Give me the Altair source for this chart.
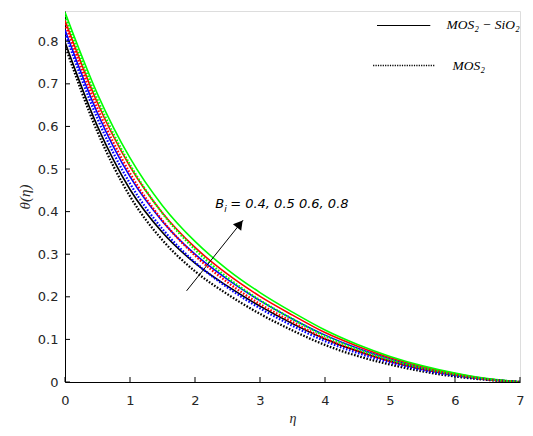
import altair as alt
import pandas as pd

# ---------------- data ----------------
eta = [0, 0.5, 1, 1.5, 2, 2.5, 3, 3.5, 4, 4.5, 5, 5.5, 6, 6.5, 7]
bi_labels = ["0.4", "0.5", "0.6", "0.8"]
line_colors = ["#000000", "#0000FF", "#FF0000", "#00FF00"]

# MOS2 - SiO2 (solid)
hyb_04 = [0.798, 0.600, 0.452, 0.351, 0.279, 0.225, 0.178, 0.137, 0.101, 0.072, 0.049, 0.030, 0.016, 0.006, 0.0]
hyb_05 = [0.827, 0.631, 0.482, 0.377, 0.300, 0.241, 0.191, 0.148, 0.110, 0.079, 0.054, 0.033, 0.018, 0.007, 0.0]
hyb_06 = [0.849, 0.655, 0.506, 0.397, 0.316, 0.253, 0.201, 0.157, 0.116, 0.084, 0.057, 0.036, 0.020, 0.007, 0.0]
hyb_08 = [0.868, 0.676, 0.526, 0.414, 0.330, 0.264, 0.210, 0.164, 0.122, 0.088, 0.060, 0.038, 0.021, 0.008, 0.0]

# MOS2 (dotted)
mono_04 = [0.790, 0.587, 0.436, 0.333, 0.260, 0.206, 0.160, 0.121, 0.087, 0.061, 0.041, 0.025, 0.013, 0.005, 0.0]
mono_05 = [0.819, 0.618, 0.466, 0.359, 0.281, 0.222, 0.173, 0.132, 0.096, 0.068, 0.046, 0.028, 0.015, 0.006, 0.0]
mono_06 = [0.841, 0.642, 0.490, 0.379, 0.297, 0.234, 0.183, 0.141, 0.102, 0.073, 0.049, 0.031, 0.017, 0.006, 0.0]
mono_08 = [0.860, 0.663, 0.510, 0.396, 0.311, 0.245, 0.192, 0.148, 0.108, 0.077, 0.052, 0.033, 0.018, 0.007, 0.0]

x_ticks = [0, 1, 2, 3, 4, 5, 6, 7]
y_ticks = [0, 0.1, 0.2, 0.3, 0.4, 0.5, 0.6, 0.7, 0.8]

legend_labels = ["MOS\u2082 \u2212 SiO\u2082", "MOS\u2082"]
annot_text = "= 0.4, 0.5 0.6, 0.8"

# ---------------- build table ----------------
rows = []
for fluid, series in [("hybrid", [hyb_04, hyb_05, hyb_06, hyb_08]),
                      ("mono", [mono_04, mono_05, mono_06, mono_08])]:
    for bi, vals in zip(bi_labels, series):
        for e, v in zip(eta, vals):
            rows.append({"eta": e, "theta": v, "bi": bi, "fluid": fluid, "key": fluid + bi})
df = pd.DataFrame(rows)

W, H = 455, 371
xs = alt.Scale(domain=[0, 7], nice=False, zero=False)
ys = alt.Scale(domain=[0, 0.871], nice=False, zero=False)
cscale = alt.Scale(domain=bi_labels, range=line_colors)

base = alt.Chart(df)

solid = base.transform_filter(alt.datum.fluid == "hybrid").mark_line(
    strokeWidth=1.6, interpolate="monotone", clip=True
).encode(
    x=alt.X("eta:Q", scale=xs, axis=alt.Axis(
        values=x_ticks, title="η", tickSize=0, labelPadding=12, format="d",
        labelFlush=False, labelOverlap=False,
        domainColor="#000000", domainWidth=1, grid=False,
        labelFont="DejaVu Sans", labelFontSize=13, labelColor="#262626",
        titleFont="Liberation Serif", titleFontStyle="italic", titleFontWeight="normal",
        titleFontSize=14, titleColor="#262626", titlePadding=4)),
    y=alt.Y("theta:Q", scale=ys, axis=alt.Axis(
        values=y_ticks, title="θ(η)", tickSize=0, labelPadding=7, format=".1~f",
        labelFlush=False, labelOverlap=False,
        domainColor="#000000", domainWidth=1, grid=False,
        labelFont="DejaVu Sans", labelFontSize=13, labelColor="#262626",
        titleFont="Liberation Serif", titleFontStyle="italic", titleFontWeight="normal",
        titleFontSize=15, titleColor="#262626", titlePadding=5)),
    color=alt.Color("bi:N", scale=cscale, legend=None),
    detail="key:N",
)

dotted = base.transform_filter(alt.datum.fluid == "mono").mark_line(
    strokeWidth=2.3, strokeDash=[1.6, 1.6], interpolate="monotone", clip=True
).encode(
    x=alt.X("eta:Q", scale=xs),
    y=alt.Y("theta:Q", scale=ys),
    color=alt.Color("bi:N", scale=cscale, legend=None),
    detail="key:N",
)

# inward ticks (MATLAB style)
xt = alt.Chart(pd.DataFrame({"t": x_ticks})).mark_rule(color="#000000", strokeWidth=1).encode(
    x=alt.X("t:Q", scale=xs), y=alt.value(H), y2=alt.value(H - 5))
yt = alt.Chart(pd.DataFrame({"t": y_ticks})).mark_rule(color="#000000", strokeWidth=1).encode(
    y=alt.Y("t:Q", scale=ys), x=alt.value(0), x2=alt.value(5))

# legend (in data coordinates)
leg_lines = pd.DataFrame({
    "x1": [4.80, 4.74], "x2": [5.62, 5.69], "y": [0.837, 0.743], "fluid": ["hybrid", "mono"]})
leg_solid = alt.Chart(leg_lines[leg_lines.fluid == "hybrid"]).mark_rule(
    color="#000000", strokeWidth=1.2).encode(
    x=alt.X("x1:Q", scale=xs), x2="x2:Q", y=alt.Y("y:Q", scale=ys))
leg_dot = alt.Chart(leg_lines[leg_lines.fluid == "mono"]).mark_rule(
    color="#000000", strokeWidth=1.6, strokeDash=[1.2, 1.2]).encode(
    x=alt.X("x1:Q", scale=xs), x2="x2:Q", y=alt.Y("y:Q", scale=ys))
leg_text = alt.Chart(pd.DataFrame({
    "x": [5.87, 5.96], "y": [0.837, 0.743], "label": legend_labels})).mark_text(
    align="left", baseline="middle", font="Liberation Serif", fontStyle="italic",
    fontSize=13.5, color="#000000").encode(
    x=alt.X("x:Q", scale=xs), y=alt.Y("y:Q", scale=ys), text="label:N")

# arrow annotation
arrow = alt.Chart(pd.DataFrame({"x1": [1.87], "y1": [0.214], "x2": [2.74], "y2": [0.380]})).mark_rule(
    color="#000000", strokeWidth=1).encode(
    x=alt.X("x1:Q", scale=xs), y=alt.Y("y1:Q", scale=ys), x2="x2:Q", y2="y2:Q")
head = alt.Chart(pd.DataFrame({"x": [2.69], "y": [0.371]})).mark_point(
    shape="triangle-up", filled=True, size=110, angle=38, color="#000000", opacity=1).encode(
    x=alt.X("x:Q", scale=xs), y=alt.Y("y:Q", scale=ys))

ann = pd.DataFrame({"x": [2.31], "y": [0.417]})
t_b = alt.Chart(ann).mark_text(align="left", baseline="middle", font="DejaVu Sans",
                               fontStyle="italic", fontSize=13, color="#000000", text="B").encode(
    x=alt.X("x:Q", scale=xs), y=alt.Y("y:Q", scale=ys))
t_i = alt.Chart(ann).mark_text(align="left", baseline="middle", font="DejaVu Sans",
                               fontStyle="italic", fontSize=9, color="#000000", text="i",
                               dx=9, dy=5).encode(
    x=alt.X("x:Q", scale=xs), y=alt.Y("y:Q", scale=ys))
t_rest = alt.Chart(ann).mark_text(align="left", baseline="middle", font="DejaVu Sans",
                                  fontStyle="italic", fontSize=13, color="#000000",
                                  text=annot_text, dx=15).encode(
    x=alt.X("x:Q", scale=xs), y=alt.Y("y:Q", scale=ys))

chart = alt.layer(solid, dotted, xt, yt, leg_solid, leg_dot, leg_text, arrow, head,
                  t_b, t_i, t_rest).properties(
    width=W, height=H,
    autosize=alt.AutoSizeParams(type="none"),
    padding={"left": 57, "top": 3, "right": 5, "bottom": 46},
).configure_view(stroke=None).configure(background="#FFFFFF")

chart.save("out.html", embed_options={"renderer": "svg", "actions": False})
